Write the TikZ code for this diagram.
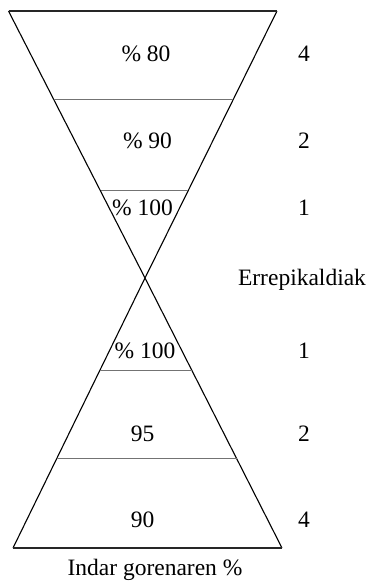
\documentclass[tikz,border=0pt]{standalone}
\usepackage{fontspec}
\setmainfont{Liberation Serif}
\usetikzlibrary{calc}
\begin{document}
\begin{tikzpicture}[x=1pt,y=-1pt,
  edge/.style={line width=1.1pt, line join=round},
  rim/.style={line width=1.4pt, black!85},
  divider/.style={line width=1pt, black!55},
  lbl/.style={inner sep=0pt, anchor=base, font=\fontsize{23.5}{26}\selectfont}]
\useasboundingbox (0,0) rectangle (373,582);
\coordinate (TL) at (8.5,11);
\coordinate (TR) at (277,11);
\coordinate (X) at (145,278);
\coordinate (BL) at (13,548);
\coordinate (BR) at (282,548);
% outline
\draw[edge] (TL) -- (X) -- (BR);
\draw[edge] (TR) -- (X) -- (BL);
\draw[rim] (TL) -- (TR);
\draw[rim] (BL) -- (BR);
% dividers
\draw[divider] ($(TL)!0.333!(X)$) -- ($(TR)!0.333!(X)$);
\draw[divider] ($(TL)!0.674!(X)$) -- ($(TR)!0.674!(X)$);
\draw[divider] ($(X)!0.341!(BL)$) -- ($(X)!0.341!(BR)$);
\draw[divider] ($(X)!0.670!(BL)$) -- ($(X)!0.670!(BR)$);
% labels
\node[lbl] (p80) at (146,61) {\% 80};
\node[lbl] (p90) at (147.5,148) {\% 90};
\node[lbl] (p100a) at (142.5,215) {\% 100};
\node[lbl] (p100b) at (145,358) {\% 100};
\node[lbl] (p95) at (142.5,441) {95};
\node[lbl] (p90b) at (142.5,527) {90};
\node[lbl] (r4a) at (304,61) {4};
\node[lbl] (r2a) at (304,148) {2};
\node[lbl] (r1a) at (304,215) {1};
\node[lbl] (rep) at (302,285) {Errepikaldiak};
\node[lbl] (r1b) at (304,358) {1};
\node[lbl] (r2b) at (304,441) {2};
\node[lbl] (r4b) at (304,527) {4};
\node[lbl] (axis) at (155,575) {Indar gorenaren \%};
\end{tikzpicture}
\end{document}
